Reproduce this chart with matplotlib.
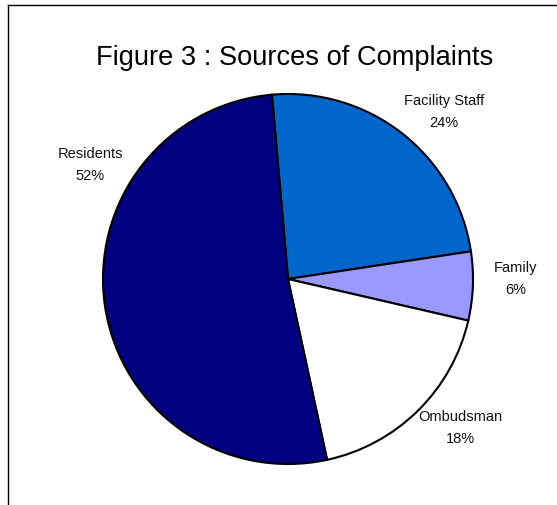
import matplotlib
matplotlib.use("Agg")
import matplotlib.pyplot as plt
from matplotlib.lines import Line2D

# =========================================================
# Datos
# =========================================================

categories = ["Facility Staff", "Family", "Ombudsman", "Residents"]
shares = [24, 6, 18, 52]
colors = ["#0066CC", "#9999FF", "#FFFFFF", "#000080"]

# label positions in units of pie radius (centre of the two-line label)
label_pos = [(0.843, 0.908), (1.232, 0.005), (0.93, -0.80), (-1.07, 0.622)]

plt.rcParams["font.family"] = ["Liberation Sans", "DejaVu Sans"]

W, H = 557, 506
fig = plt.figure(figsize=(W / 100, H / 100), dpi=100)

# pie centre and radius in pixels
cx, cy, r = 288, 280, 185
ax = fig.add_axes([(cx - r) / W, (H - cy - r) / H, 2 * r / W, 2 * r / H])

ax.pie(
    shares,
    colors=colors,
    startangle=95,
    counterclock=False,
    radius=1.0,
    wedgeprops=dict(edgecolor="black", linewidth=1.5),
)
ax.set_xlim(-1, 1)
ax.set_ylim(-1, 1)
ax.set_aspect("equal")
ax.axis("off")

for name, val, (lx, ly) in zip(categories, shares, label_pos):
    ax.text(lx, ly, f"{name}\n{val}%", ha="center", va="center",
            fontsize=10.5, linespacing=1.7, clip_on=False, color="#111111")

fig.text(295 / W, 1 - 58 / H, "Figure 3 : Sources of Complaints",
         ha="center", va="center", fontsize=19.6)

# chart frame (only left and top edges are visible)
fig.add_artist(Line2D([8 / W, 8 / W], [0, 1 - 6 / H], color="black", lw=1,
                      transform=fig.transFigure))
fig.add_artist(Line2D([8 / W, 1], [1 - 6 / H, 1 - 6 / H], color="black", lw=1,
                      transform=fig.transFigure))

fig.savefig("out.png", dpi=100)
